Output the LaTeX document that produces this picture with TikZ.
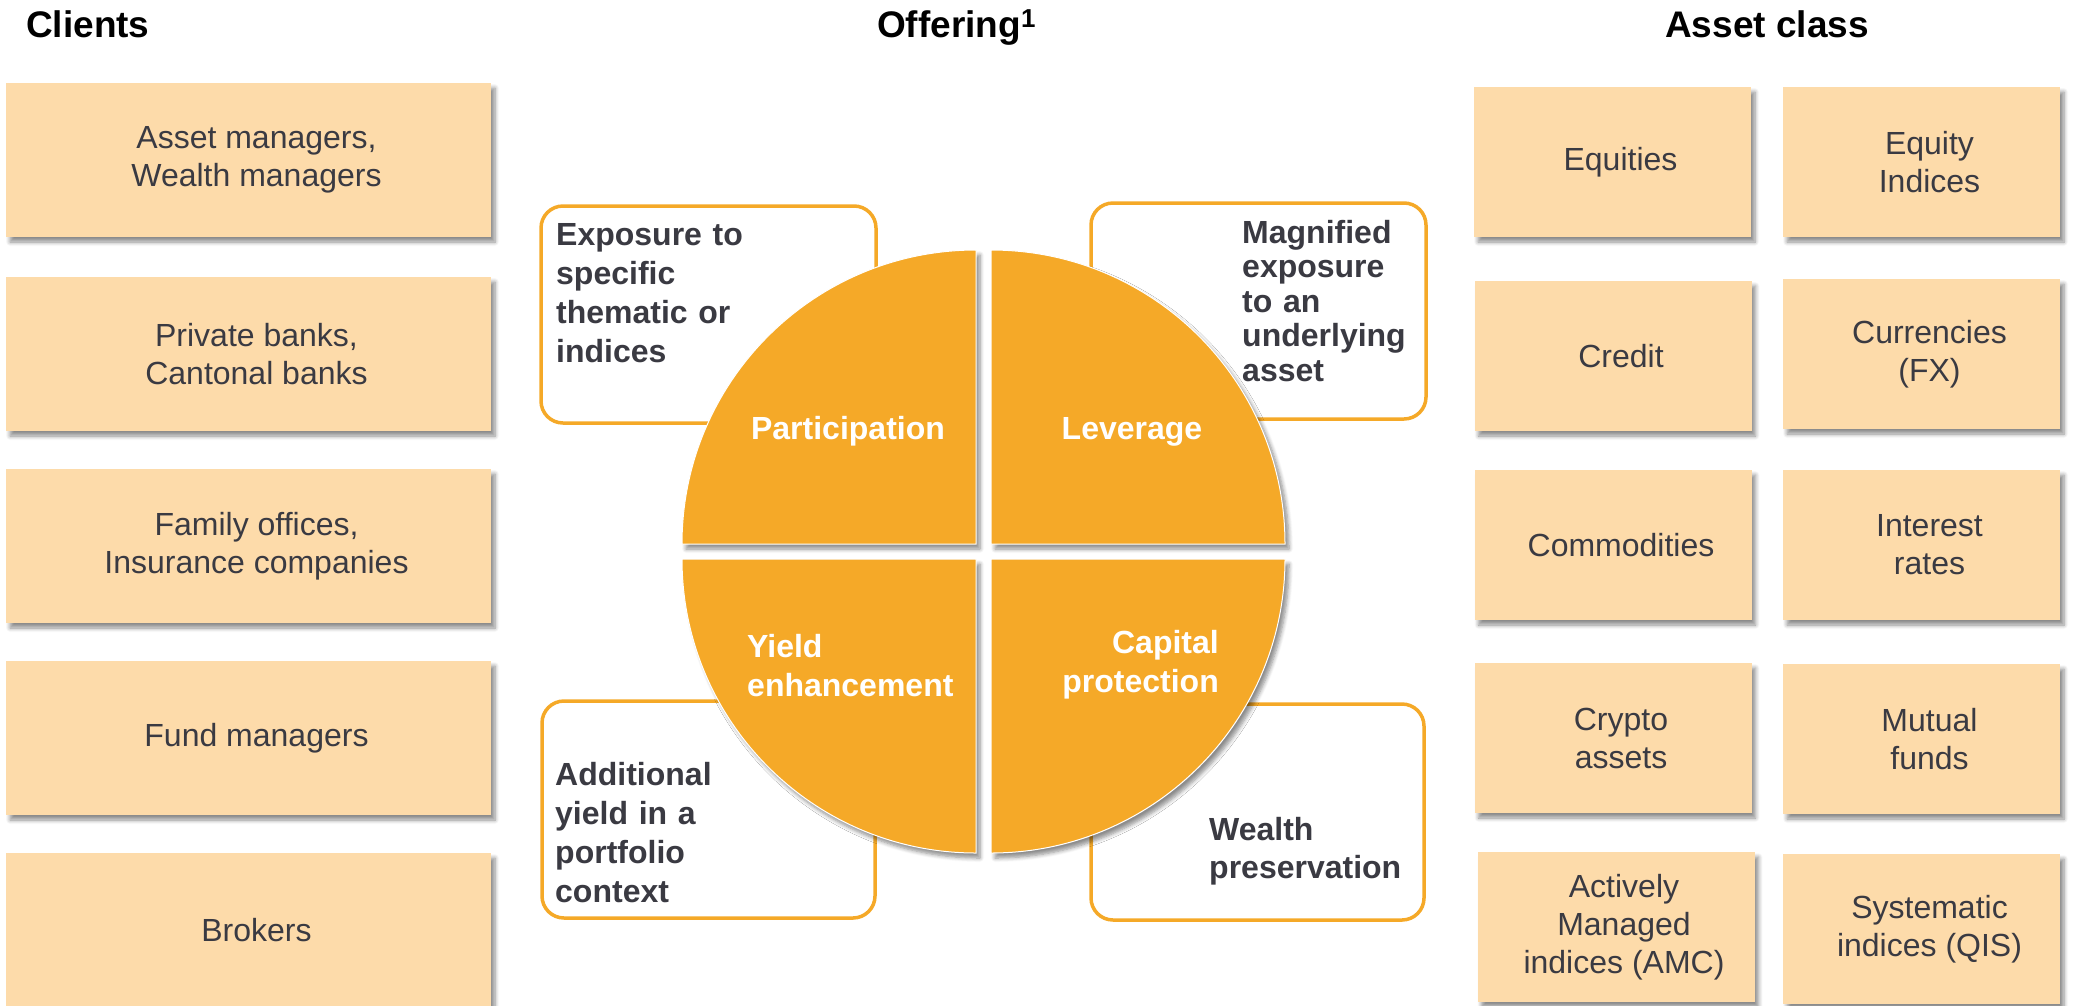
\documentclass[tikz,border=0pt]{standalone}
\usepackage{fontspec}
\setmainfont{Liberation Sans}
\usetikzlibrary{shadows.blur}
\definecolor{peach}{HTML}{FDDBAA}
\definecolor{amber}{HTML}{F5A928}
\definecolor{ink}{HTML}{3A3A42}

\begin{document}
\begin{tikzpicture}[x=1pt,y=-1pt,
  softshadow/.style={blur shadow={shadow xshift=4pt, shadow yshift=-5pt,
      shadow blur radius=4pt, shadow blur steps=6, shadow opacity=45}},
  title/.style={anchor=base west, inner sep=0, text=black,
      font=\fontsize{37}{44}\selectfont\bfseries},
  peachbox/.style={fill=peach, inner sep=0, softshadow},
  clientbox/.style={peachbox, minimum width=485pt, minimum height=154pt},
  assetbox/.style={peachbox, minimum width=277pt, minimum height=150pt},
  boxtext/.style={text=ink, align=center, inner sep=0, xshift=8pt,
      font=\fontsize{32}{38}\selectfont},
  notebox/.style={draw=amber, line width=3.5pt, rounded corners=22pt, fill=white},
  notetext/.style={inner sep=0, align=left, text=ink,
      font=\fontsize{32}{39}\selectfont\bfseries},
  quarter/.style={fill=amber, draw=white, line width=1pt, softshadow},
  quartertext/.style={inner sep=0, text=white,
      font=\fontsize{32}{39}\selectfont\bfseries}
]
\useasboundingbox (0,0) rectangle (2075,1005);

% column headings
\node[title] (hClients) at (26,37) {Clients};
\node[title] (hOffering) at (877,37) {Offering\textsuperscript{1}};
\node[title] (hAssets) at (1665,37) {Asset class};

% client segments
\node[clientbox] (c1) at (248.5,160) {};
\node[clientbox] (c2) at (248.5,354) {};
\node[clientbox] (c3) at (248.5,546) {};
\node[clientbox] (c4) at (248.5,738) {};
\node[clientbox] (c5) at (248.5,930) {};
\node[boxtext] (c1t) at (c1) {Asset managers,\\Wealth managers};
\node[boxtext] (c2t) at (c2) {Private banks,\\Cantonal banks};
\node[boxtext] (c3t) at (c3) {Family offices,\\Insurance companies};
\node[boxtext] (c4t) at (c4) {Fund managers};
\node[boxtext] (c5t) at (c5) {Brokers};

% asset classes, two columns
\node[assetbox] (a1) at (1612.5,162) {};
\node[assetbox] (b1) at (1921.5,162) {};
\node[assetbox] (a2) at (1613,356) {};
\node[assetbox] (b2) at (1921.5,354) {};
\node[assetbox] (a3) at (1613,545) {};
\node[assetbox] (b3) at (1921.5,545) {};
\node[assetbox] (a4) at (1613,738) {};
\node[assetbox] (b4) at (1921.5,739) {};
\node[assetbox] (a5) at (1616,927) {};
\node[assetbox] (b5) at (1921.5,929) {};
\node[boxtext] (a1t) at (a1) {Equities};
\node[boxtext] (b1t) at (b1) {Equity\\Indices};
\node[boxtext] (a2t) at (a2) {Credit};
\node[boxtext] (b2t) at (b2) {Currencies\\(FX)};
\node[boxtext] (a3t) at (a3) {Commodities};
\node[boxtext] (b3t) at (b3) {Interest\\rates};
\node[boxtext] (a4t) at (a4) {Crypto\\assets};
\node[boxtext] (b4t) at (b4) {Mutual\\funds};
\node[boxtext] (a5t) at (a5) {Actively\\Managed\\indices (AMC)};
\node[boxtext] (b5t) at (b5) {Systematic\\indices (QIS)};

% outlined description panels (behind the circle)
\draw[notebox] (541,206) rectangle (876,423);
\draw[notebox] (1091,203) rectangle (1426,419);
\draw[notebox] (542,701) rectangle (875,918);
\draw[notebox] (1091,704) rectangle (1424,920);

\node[notetext, anchor=base west, text width=300pt] (tPart) at (556,245)
  {Exposure to\\specific\\thematic or\\indices};
\node[notetext, anchor=base west, text width=180pt,
  font=\fontsize{32}{34.5}\selectfont\bfseries] (tLev) at (1242,243)
  {Magnified\\exposure\\to an\\underlying\\asset};
\node[notetext, anchor=base west, text width=300pt] (tYield) at (555,785)
  {Additional\\yield in a\\portfolio\\context};
\node[notetext, anchor=base west, text width=210pt,
  font=\fontsize{32}{38}\selectfont\bfseries] (tCap) at (1209,840)
  {Wealth\\preservation};

% the four quarters of the offering circle
\coordinate (qTL) at (976,544);
\coordinate (qTR) at (991,544);
\coordinate (qBL) at (976,559);
\coordinate (qBR) at (991,559);
\path[quarter] (qTL) -- ++(-294pt,0pt) arc[start angle=180, end angle=90, radius=294pt] -- cycle;
\path[quarter] (qTR) -- ++(0pt,294pt) arc[start angle=90, end angle=0, radius=294pt] -- cycle;
\path[quarter] (qBL) -- ++(-294pt,0pt) arc[start angle=180, end angle=270, radius=294pt] -- cycle;
\path[quarter] (qBR) -- ++(0pt,-294pt) arc[start angle=270, end angle=360, radius=294pt] -- cycle;

\node[quartertext, anchor=base] (lPart) at (848,439) {Participation};
\node[quartertext, anchor=base] (lLev) at (1132,439) {Leverage};
\node[quartertext, anchor=base west, text width=220pt, align=left] (lYield) at (747,657)
  {Yield\\enhancement};
\node[quartertext, anchor=base east, text width=170pt, align=right] (lCap) at (1219,653)
  {Capital\\protection};
\end{tikzpicture}
\end{document}
